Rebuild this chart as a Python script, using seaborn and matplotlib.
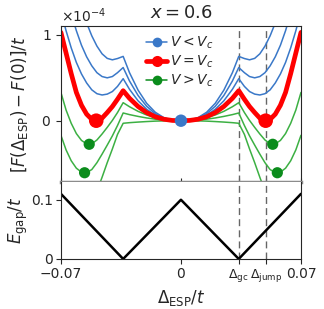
import pandas as pd
import seaborn as sns
import matplotlib.pyplot as plt
from matplotlib.lines import Line2D
from matplotlib.ticker import ScalarFormatter

# right half of the free-energy curves (symmetric in Delta), values in units of 1e-4
DELTA = [0, 0.005, 0.01, 0.015, 0.02, 0.025, 0.03, 0.0337, 0.037, 0.04, 0.043,
         0.046, 0.049, 0.052, 0.055, 0.058, 0.061, 0.064, 0.067, 0.07]
BLUE_1 = [0, 0.006, 0.036, 0.099, 0.203, 0.356, 0.560, 0.75, 0.725, 0.71, 0.727,
          0.78, 0.87, 0.99, 1.14, 1.33, 1.55, 1.80, 2.1, 2.4]
BLUE_2 = [0, 0.005, 0.030, 0.082, 0.168, 0.294, 0.463, 0.62, 0.56, 0.515, 0.50,
          0.515, 0.56, 0.64, 0.745, 0.88, 1.05, 1.25, 1.48, 1.73]
BLUE_3 = [0, 0.004, 0.024, 0.065, 0.133, 0.232, 0.366, 0.49, 0.40, 0.34, 0.31,
          0.30, 0.315, 0.36, 0.44, 0.545, 0.68, 0.85, 1.05, 1.28]
RED = [0, 0.003, 0.017, 0.046, 0.095, 0.166, 0.261, 0.35, 0.25, 0.165, 0.095,
       0.03, 0.0, 0.016, 0.076, 0.18, 0.33, 0.55, 0.79, 1.03]
GREEN_1 = [0, 0.003, 0.015, 0.035, 0.067, 0.109, 0.163, 0.21, 0.095, 0.003, -0.078,
           -0.155, -0.225, -0.27, -0.27, -0.23, -0.15, -0.03, 0.125, 0.33]
GREEN_2 = [0, 0.002, 0.008, 0.018, 0.032, 0.050, 0.071, 0.09, -0.056, -0.177, -0.285,
           -0.39, -0.49, -0.57, -0.605, -0.60, -0.554, -0.467, -0.34, -0.17]
GREEN_3 = [0, 0.0, -0.002, -0.005, -0.010, -0.016, -0.023, -0.03, -0.16, -0.33, -0.49,
           -0.66, -0.82, -0.96, -1.07, -1.13, -1.14, -1.10, -1.0, -0.88]

# minima marked with dots (right side, mirrored)
RED_MIN = (0.0494, 0.0)
GREEN_MINS_X = [0.0535, 0.0562]
GREEN_MINS_Y = [-0.275, -0.607]

# gap
GAP_X = [-0.07, -0.0337, 0, 0.0337, 0.07]
GAP_Y = [0.11, 0, 0.1, 0, 0.11]

D_GC = 0.0337
D_JUMP = 0.0494
SCALE = 1e-4

BLUE = '#3a78c8'
RED_C = '#ff0000'
GREEN_LINE = '#3cb043'
GREEN_DOT = '#0b8c1c'


def mirror(xs, ys):
    return [-x for x in xs[:0:-1]] + list(xs), list(ys[:0:-1]) + list(ys)


sns.set_style('ticks')

curves = [('b1', BLUE_1), ('b2', BLUE_2), ('b3', BLUE_3), ('g1', GREEN_1),
          ('g2', GREEN_2), ('g3', GREEN_3), ('r', RED)]
rows = []
for name, vals in curves:
    xs, ys = mirror(DELTA, vals)
    for x, y in zip(xs, ys):
        rows.append({'delta': x, 'F': y * SCALE, 'curve': name})
df = pd.DataFrame(rows)

palette = {'b1': BLUE, 'b2': BLUE, 'b3': BLUE, 'g1': GREEN_LINE, 'g2': GREEN_LINE,
           'g3': GREEN_LINE, 'r': RED_C}
sizes = {'b1': 1.1, 'b2': 1.1, 'b3': 1.1, 'g1': 1.1, 'g2': 1.1, 'g3': 1.1, 'r': 3.4}

fig = plt.figure(figsize=(3.24, 3.09), dpi=100)
ax_top = fig.add_axes([0.188, 0.411, 0.741, 0.505])
ax_bot = fig.add_axes([0.188, 0.162, 0.741, 0.249], sharex=ax_top)

for ax in (ax_top, ax_bot):
    for xv in (D_GC, D_JUMP):
        ax.axvline(xv, color='0.4', lw=1.0, ls=(0, (5, 3)), zorder=1)

sns.lineplot(data=df, x='delta', y='F', hue='curve', palette=palette,
             size='curve', sizes=sizes, hue_order=[c[0] for c in curves],
             size_order=[c[0] for c in curves], legend=False, ax=ax_top,
             estimator=None, sort=True)

gx = GREEN_MINS_X + [-x for x in GREEN_MINS_X]
gy = GREEN_MINS_Y + GREEN_MINS_Y
sns.scatterplot(x=gx, y=[v * SCALE for v in gy], color=GREEN_DOT, s=65,
                edgecolor='none', ax=ax_top, zorder=5)
sns.scatterplot(x=[RED_MIN[0], -RED_MIN[0]], y=[RED_MIN[1] * SCALE] * 2,
                color=RED_C, s=110, edgecolor='none', ax=ax_top, zorder=5)
sns.scatterplot(x=[0], y=[0], color=BLUE, s=80, edgecolor='none', ax=ax_top, zorder=6)

ax_top.set_xlim(-0.07, 0.07)
ax_top.set_ylim(-0.715e-4, 1.105e-4)
ax_top.set_yticks([0, 1e-4])
fmt = ScalarFormatter(useMathText=True)
fmt.set_powerlimits((0, 0))
ax_top.yaxis.set_major_formatter(fmt)
ax_top.yaxis.get_offset_text().set_fontsize(10)
ax_top.tick_params(axis='y', labelsize=10)
ax_top.tick_params(axis='x', labelbottom=False, direction='in', length=3)
ax_top.set_xlabel('')
ax_top.set_ylabel(r'$[F(\Delta_{\rm ESP})-F(0)]/t$', fontsize=12)
ax_top.yaxis.set_label_coords(-0.13, 0.5)
ax_top.set_title('$x = 0.6$', fontsize=13, pad=6)
ax_top.spines['bottom'].set_color('0.55')
ax_top.spines['bottom'].set_linewidth(2.5)

handles = [
    Line2D([], [], color=BLUE, lw=1.1, marker='o', ms=7, mec='none'),
    Line2D([], [], color=RED_C, lw=3.4, marker='o', ms=8, mec='none'),
    Line2D([], [], color=GREEN_DOT, lw=1.1, marker='o', ms=7, mec='none'),
]
ax_top.legend(handles, ['$V < V_c$', '$V = V_c$', '$V > V_c$'], loc='upper left',
              bbox_to_anchor=(0.355, 0.945), frameon=False, fontsize=10,
              borderpad=0, borderaxespad=0,
              handlelength=1.5, handletextpad=0.25, labelspacing=0.2)

sns.lineplot(x=GAP_X, y=GAP_Y, color='black', lw=1.8, ax=ax_bot, sort=False)
ax_bot.set_ylim(0, 0.13)
ax_bot.set_yticks([0, 0.1])
ax_bot.set_yticklabels(['0', '0.1'])
ax_bot.set_xticks([-0.07, 0, D_GC, D_JUMP, 0.07])
ax_bot.set_xticklabels(['\u22120.07', '0', r'$\Delta_{\rm gc}$', r'$\Delta_{\rm jump}$', '0.07'])
ax_bot.tick_params(axis='both', labelsize=10, pad=2)
for lab in ax_bot.get_xticklabels()[2:4]:
    lab.set_fontsize(9)
ax_bot.spines['top'].set_visible(False)
ax_bot.set_xlabel(r'$\Delta_{\rm ESP}/t$', fontsize=12, labelpad=3)
ax_bot.set_ylabel(r'$E_{\rm gap}/t$', fontsize=12)
ax_bot.yaxis.set_label_coords(-0.13, 0.5)

fig.savefig('out.png', dpi=100)
